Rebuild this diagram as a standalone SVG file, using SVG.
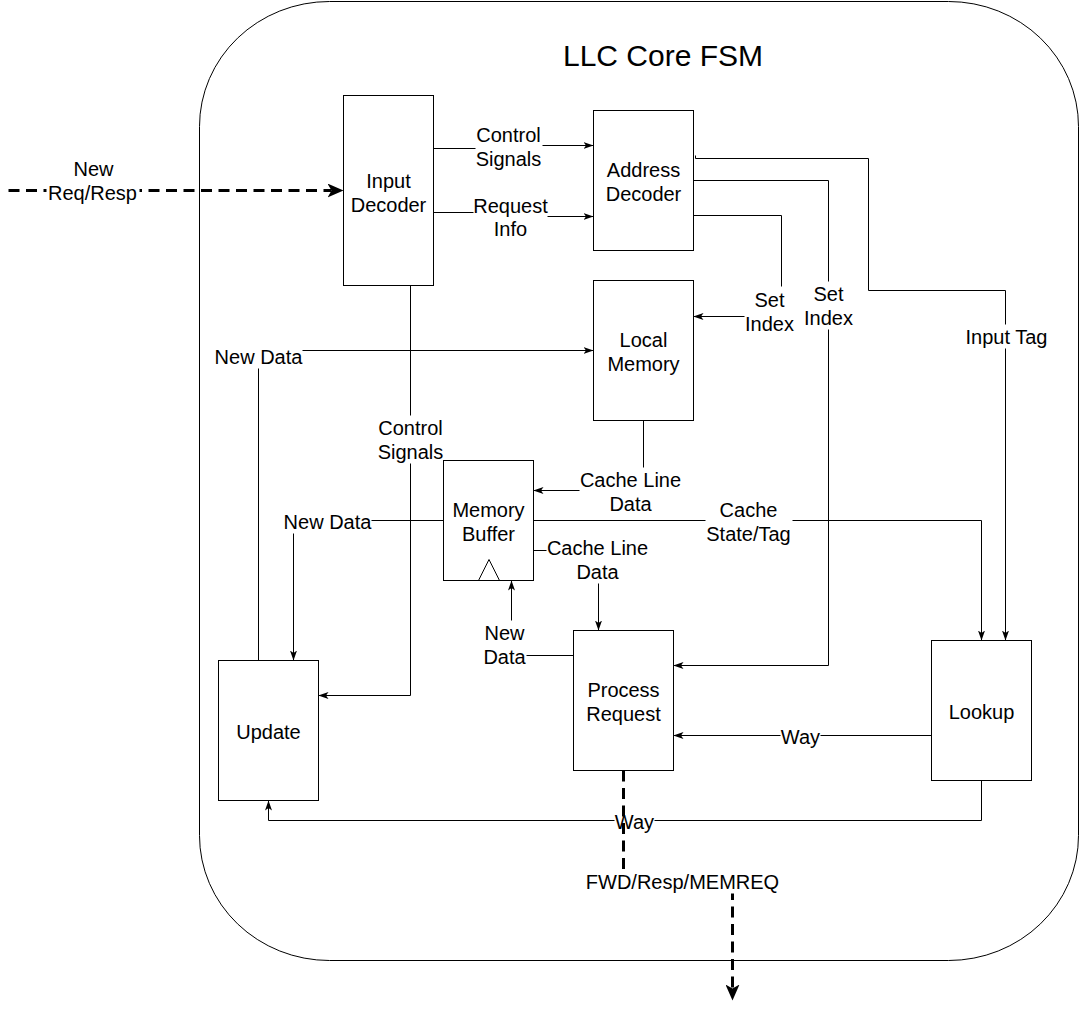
<svg xmlns="http://www.w3.org/2000/svg" width="1080" height="1011" viewBox="0 0 1080 1011">
<style>
text{font-family:"Liberation Sans",Arial,sans-serif;font-size:20px;text-anchor:middle;fill:#000}
.n{fill:#fff;stroke:#000;stroke-width:1}
.e{fill:none;stroke:#000;stroke-width:1}
.d{fill:none;stroke:#000;stroke-width:3;stroke-dasharray:11 6.5}
.lb{fill:#fff;stroke:none}
</style>
<defs>
<marker id="a" markerUnits="userSpaceOnUse" markerWidth="10" markerHeight="8" viewBox="0 0 10 8" refX="10" refY="4" orient="auto"><path d="M0,0.5 L10,4 L0,7.5 L2.5,4 Z" fill="#000"/></marker>
<marker id="b" markerUnits="userSpaceOnUse" markerWidth="16" markerHeight="14" viewBox="0 0 16 14" refX="4" refY="7" orient="auto"><path d="M0,0 L16,7 L0,14 L4,7 Z" fill="#000"/></marker>
</defs>
<rect width="1080" height="1011" fill="#fff"/>
<g id="container">
<rect x="199.5" y="1.5" width="879" height="959" rx="130" ry="125" fill="#fff" stroke="#000" stroke-width="1"/>
<text x="663" y="66" style="font-size:30px">LLC Core FSM</text>
</g>
<g id="connectors" transform="translate(0.5,0.5)">
<g id="e-new-req">
<path class="d" d="M8,190 L331,190" marker-end="url(#b)"/>
<rect class="lb" x="46" y="180" width="93" height="24"/>
<text x="93" y="175">New</text><text x="92" y="199">Req/Resp</text>
</g>
<g id="e-ctrl-top">
<path class="e" d="M433,148 L500,148 L500,145 L593,145" marker-end="url(#a)"/>
<rect class="lb" x="475" y="121" width="67" height="49"/>
<text x="508" y="141">Control</text><text x="508" y="165">Signals</text>
</g>
<g id="e-req-info">
<path class="e" d="M433,207 L433,212 L500,212 L500,216 L593,216" marker-end="url(#a)"/>
<rect class="lb" x="473" y="193" width="74" height="47"/>
<text x="510" y="212">Request</text><text x="510" y="235">Info</text>
</g>
<g id="e-input-tag">
<path class="e" d="M695,155 L695,158 L868,158 L868,290 L1005,290 L1005,640" marker-end="url(#a)"/>
<rect class="lb" x="964" y="324" width="84" height="24"/>
<text x="1006" y="343">Input Tag</text>
</g>
<g id="e-set-index-pr">
<path class="e" d="M693,180 L828,180 L828,665 L673,665" marker-end="url(#a)"/>
<rect class="lb" x="803" y="281" width="50" height="48"/>
<text x="828" y="300">Set</text><text x="828" y="324">Index</text>
</g>
<g id="e-set-index-lm">
<path class="e" d="M693,215 L781,215 L781,316 L693,316" marker-end="url(#a)"/>
<rect class="lb" x="744" y="286" width="50" height="49"/>
<text x="769" y="306">Set</text><text x="769" y="330">Index</text>
</g>
<g id="e-new-data-top">
<path class="e" d="M258,660 L258,350 L593,350" marker-end="url(#a)"/>
<rect class="lb" x="214" y="344" width="88" height="24"/>
<text x="258" y="363">New Data</text>
</g>
<g id="e-ctrl-low">
<path class="e" d="M410,285 L410,695 L318,695" marker-end="url(#a)"/>
<rect class="lb" x="376" y="415" width="68" height="48"/>
<text x="410" y="434">Control</text><text x="410" y="458">Signals</text>
</g>
<g id="e-cache-line-lm">
<path class="e" d="M643,420 L643,490 L533,490" marker-end="url(#a)"/>
<rect class="lb" x="579" y="467" width="102" height="48"/>
<text x="630" y="486">Cache Line</text><text x="630" y="510">Data</text>
</g>
<g id="e-new-data-mid">
<path class="e" d="M443,520 L293,520 L293,660" marker-end="url(#a)"/>
<rect class="lb" x="283" y="509" width="88" height="24"/>
<text x="327" y="528">New Data</text>
</g>
<g id="e-cache-state">
<path class="e" d="M533,520 L981,520 L981,640" marker-end="url(#a)"/>
<rect class="lb" x="705" y="497" width="87" height="48"/>
<text x="748" y="516">Cache</text><text x="748" y="540">State/Tag</text>
</g>
<g id="e-cache-line-mb">
<path class="e" d="M533,550 L598,550 L598,630" marker-end="url(#a)"/>
<rect class="lb" x="546" y="535" width="102" height="48"/>
<text x="597" y="554">Cache Line</text><text x="597" y="578">Data</text>
</g>
<g id="e-new-data-pr">
<path class="e" d="M573,655 L511,655 L511,580" marker-end="url(#a)"/>
<rect class="lb" x="482" y="620" width="44" height="48"/>
<text x="504" y="639">New</text><text x="504" y="663">Data</text>
</g>
<g id="e-way-pr">
<path class="e" d="M931,735 L673,735" marker-end="url(#a)"/>
<rect class="lb" x="780" y="724" width="40" height="24"/>
<text x="800" y="743">Way</text>
</g>
<g id="e-way-update">
<path class="e" d="M981,780 L981,820 L268,820 L268,800" marker-end="url(#a)"/>
<rect class="lb" x="614" y="809" width="40" height="24"/>
<text x="634" y="828">Way</text>
</g>
<g id="e-fwd">
<path class="d" d="M623,770 L623,882 L732,882 L732,988" marker-end="url(#b)"/>
<rect class="lb" x="585" y="869" width="194" height="24"/>
<text x="682" y="888">FWD/Resp/MEMREQ</text>
</g>
</g>
<g id="nodes" transform="translate(0.5,0.5)">
<g id="input-decoder"><rect class="n" x="343" y="95" width="90" height="190"/><text x="388" y="187">Input</text><text x="388" y="211">Decoder</text></g>
<g id="address-decoder"><rect class="n" x="593" y="110" width="100" height="140"/><text x="643" y="176">Address</text><text x="643" y="200">Decoder</text></g>
<g id="local-memory"><rect class="n" x="593" y="280" width="100" height="140"/><text x="643" y="346">Local</text><text x="643" y="370">Memory</text></g>
<g id="memory-buffer"><rect class="n" x="443" y="460" width="90" height="120"/><path class="e" d="M478,580 L488.5,559 L499,580"/><text x="488" y="516">Memory</text><text x="488" y="540">Buffer</text></g>
<g id="process-request"><rect class="n" x="573" y="630" width="100" height="140"/><text x="623" y="696">Process</text><text x="623" y="720">Request</text></g>
<g id="lookup"><rect class="n" x="931" y="640" width="100" height="140"/><text x="981" y="718">Lookup</text></g>
<g id="update"><rect class="n" x="218" y="660" width="100" height="140"/><text x="268" y="738">Update</text></g>
</g>
</svg>
